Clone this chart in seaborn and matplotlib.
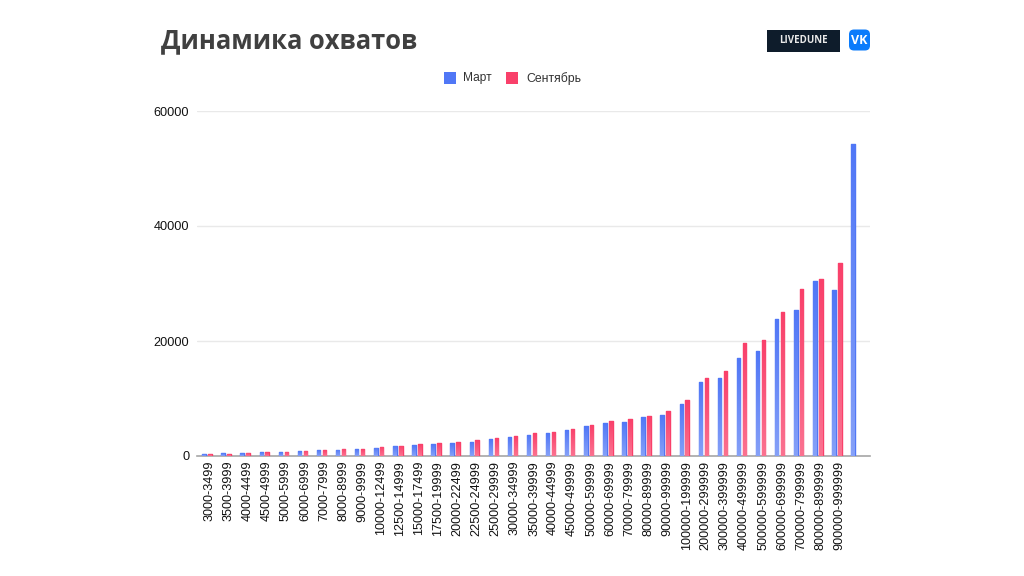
import matplotlib
matplotlib.use("Agg")
import matplotlib.pyplot as plt
from matplotlib.colors import LinearSegmentedColormap
from matplotlib.patches import FancyBboxPatch
from matplotlib.transforms import ScaledTranslation
import numpy as np
import pandas as pd
import seaborn as sns

categories = ["3000-3499", "3500-3999", "4000-4499", "4500-4999", "5000-5999", "6000-6999",
              "7000-7999", "8000-8999", "9000-9999", "10000-12499", "12500-14999", "15000-17499",
              "17500-19999", "20000-22499", "22500-24999", "25000-29999", "30000-34999",
              "35000-39999", "40000-44999", "45000-49999", "50000-59999", "60000-69999",
              "70000-79999", "80000-89999", "90000-99999", "100000-199999", "200000-299999",
              "300000-399999", "400000-499999", "500000-599999", "600000-699999",
              "700000-799999", "800000-899999", "900000-999999", ""]
march = [300, 450, 480, 650, 650, 850, 1000, 1050, 1200, 1450, 1750, 1900, 2050, 2200, 2500,
         2900, 3250, 3700, 4000, 4550, 5200, 5750, 5950, 6850, 7200, 9100, 12800, 13600, 17000,
         18200, 23800, 25400, 30400, 28900, 54300]
september = [300, 300, 530, 680, 700, 880, 1020, 1250, 1200, 1650, 1750, 2050, 2200, 2400, 2700,
             3050, 3400, 4000, 4200, 4700, 5350, 6100, 6400, 7000, 7850, 9700, 13600, 14700, 19600,
             20200, 25100, 29100, 30700, 33600, np.nan]
y_ticks = [0, 20000, 40000, 60000]

W, H = 1024, 576
sns.set_theme(style="white")
plt.rcParams['font.family'] = ['Liberation Sans', 'DejaVu Sans']

df = pd.DataFrame({
    "cat": categories * 2,
    "value": march + september,
    "series": ["Март"] * len(categories) + ["Сентябрь"] * len(categories),
})

fig = plt.figure(figsize=(W / 100, H / 100), dpi=100, facecolor="white")
ax = fig.add_axes([197 / W, 1 - 456 / H, (870 - 197) / W, (456 - 111) / H])

blue, red = "#5077f6", "#f9406a"
sns.barplot(data=df, x="cat", y="value", hue="series", palette=[blue, red], width=0.62, gap=0.42,
            saturation=1, legend=False, ax=ax, zorder=3)

# rounded tops and the slight fade towards the axis
fades = {blue: "#85a0f8", red: "#fb7290"}
for bar in ax.patches:
    if np.isnan(bar.get_height()) or bar.get_height() == 0:
        continue
    col = matplotlib.colors.to_hex(bar.get_facecolor())
    bar.set_edgecolor(col)
    bar.set_linewidth(1.0)
    bar.set_joinstyle("round")
    cmap = LinearSegmentedColormap.from_list("fade", [col, fades[col]])
    im = ax.imshow(np.linspace(0, 1, 64).reshape(-1, 1), cmap=cmap, aspect="auto", zorder=4,
                   extent=[bar.get_x(), bar.get_x() + bar.get_width(), 0, bar.get_height()])
    im.set_clip_path(bar)

ax.set_xlim(-0.52, 34.73)
ax.set_ylim(0, 60000)
ax.set_yticks(y_ticks)
ax.set_xlabel("")
ax.set_ylabel("")
ax.grid(axis="y", color="#e9e9e9", linewidth=1, zorder=0)
ax.set_axisbelow(True)
sns.despine(ax=ax, left=True, top=True, right=True)
ax.spines["bottom"].set_color("#a6a6a6")
ax.spines["bottom"].set_linewidth(1.2)
ax.tick_params(axis="y", length=0, pad=5.5, labelsize=9.2, labelcolor="#111111")
ax.tick_params(axis="x", length=0, pad=3.5, labelsize=9.1, labelcolor="#111111")
plt.setp(ax.get_xticklabels(), rotation=90, ha="center", va="top")
shift = ScaledTranslation(2.5 / 100, 0, fig.dpi_scale_trans)
for lab in ax.get_xticklabels():
    lab.set_transform(lab.get_transform() + shift)

# overlay in pixel coordinates for title, legend and logos
ov = fig.add_axes([0, 0, 1, 1], zorder=10)
ov.set_xlim(0, W)
ov.set_ylim(H, 0)
ov.axis("off")
ov.patch.set_alpha(0)

ov.text(161, 40.5, "Динамика охватов", family=["Open Sans", "DejaVu Sans"], weight="bold",
        fontsize=18.4, color="#404040", va="center", ha="left")

ov.add_patch(plt.Rectangle((444, 72), 12, 12, color=blue, lw=0))
ov.text(463, 78.5, "Март", fontsize=8.6, color="#333333", va="center", ha="left")
ov.add_patch(plt.Rectangle((506, 72), 12, 12, color=red, lw=0))
ov.text(526, 78.5, "Сентябрь", fontsize=8.8, color="#333333", va="center", ha="left")

ov.add_patch(plt.Rectangle((767, 29.5), 73, 22, color="#0e1c2b", lw=0))
ov.text(803.5, 40.8, "LIVEDUNE", fontsize=7, weight="bold", color="#e8e8e8", va="center", ha="center",
        family=["Open Sans", "DejaVu Sans"])
ov.add_patch(FancyBboxPatch((851.5, 32), 16, 16, boxstyle="round,pad=2.5,rounding_size=5",
                            facecolor="#0a7bfb", edgecolor="none"))
ov.text(859.5, 40.3, "VK", fontsize=9, weight="bold", color="white", va="center", ha="center",
        family=["Open Sans", "DejaVu Sans"])

fig.savefig("out.png", dpi=100)
